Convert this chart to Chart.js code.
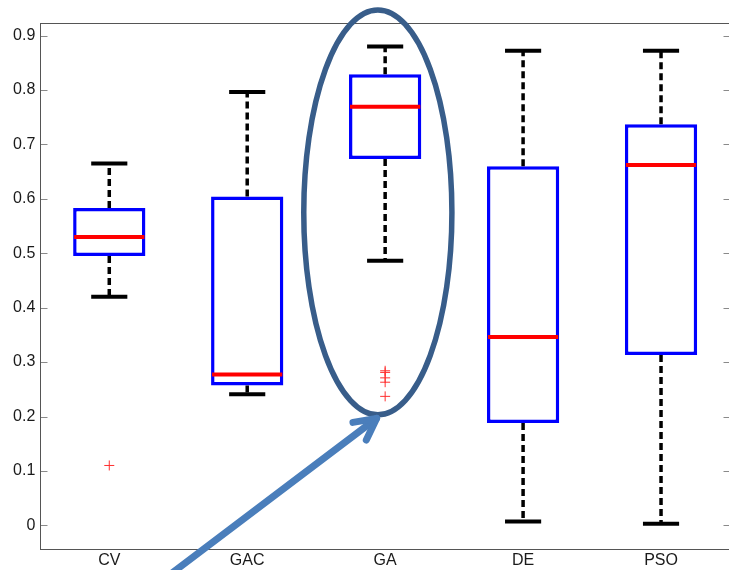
<!DOCTYPE html>
<html>
<head>
<meta charset="utf-8">
<title>Box plot</title>
<script src="https://cdn.jsdelivr.net/npm/chart.js@4/dist/chart.umd.min.js"></script>
<style>
  html, body { margin: 0; padding: 0; background: #fff; }
  #frame { width: 729px; height: 570px; overflow: hidden; }
  #holder { width: 736px; height: 570px; position: relative; }
</style>
</head>
<body>
<div id="frame"><div id="holder"><canvas id="boxChart"></canvas></div></div>
<script>
const categories = ['CV', 'GAC', 'GA', 'DE', 'PSO'];
const lowerWhisker = [0.420, 0.241, 0.486, 0.007, 0.003];
const q1 = [0.495, 0.257, 0.673, 0.188, 0.313];
const median = [0.530, 0.277, 0.769, 0.346, 0.662];
const q3 = [0.583, 0.604, 0.829, 0.660, 0.737];
const upperWhisker = [0.665, 0.796, 0.880, 0.872, 0.872];
const outliers = [[0.110], [], [0.284, 0.281, 0.271, 0.263, 0.237], [], []];
const yTicks = [0, 0.1, 0.2, 0.3, 0.4, 0.5, 0.6, 0.7, 0.8, 0.9];

// ring round GA and the arrow pointing at it, in axis units (category index, value)
const ringCenter = [1.947, 0.575];
const ringRadius = [0.537, 0.372];
const arrowFrom = [0.39, -0.1];
const arrowTo = [1.938, 0.1965];

const labelFont = { family: "'Liberation Sans', Arial, sans-serif", size: 16 };

function line(ctx, x1, y1, x2, y2) {
    ctx.beginPath();
    ctx.moveTo(x1, y1);
    ctx.lineTo(x2, y2);
    ctx.stroke();
}

// axis box with inward tick marks
const axisFrame = {
    id: 'axisFrame',
    beforeDatasetsDraw(chart) {
        const { ctx, chartArea: a, scales: { y } } = chart;
        const l = Math.round(a.left) + 0.5, r = Math.round(a.right) + 0.5;
        const t = Math.round(a.top) + 0.5, b = Math.round(a.bottom) + 0.5;
        ctx.save();
        ctx.lineWidth = 1;
        ctx.strokeStyle = '#8a8a8a';
        yTicks.forEach(v => {
            const py = Math.round(y.getPixelForValue(v)) + 0.5;
            line(ctx, l, py, l + 7, py);
            line(ctx, r - 7, py, r, py);
        });
        ctx.strokeStyle = '#555';
        ctx.strokeRect(l, t, r - l, b - t);
        ctx.restore();
    }
};

// whiskers, caps and medians on top of the boxes
const boxParts = {
    id: 'boxParts',
    afterDatasetsDraw(chart) {
        const { ctx, scales: { x, y } } = chart;
        const meta = chart.getDatasetMeta(0);
        ctx.save();
        categories.forEach((name, i) => {
            const cx = x.getPixelForValue(i);
            const half = meta.data[i].width / 2;
            const yUp = y.getPixelForValue(upperWhisker[i]);
            const yLow = y.getPixelForValue(lowerWhisker[i]);

            ctx.strokeStyle = '#000';
            ctx.lineWidth = 3.5;
            ctx.setLineDash([7, 4]);
            line(ctx, cx, y.getPixelForValue(q3[i]), cx, yUp);
            line(ctx, cx, y.getPixelForValue(q1[i]), cx, yLow);
            ctx.setLineDash([]);

            ctx.lineWidth = 4;
            line(ctx, cx - half / 2, yUp, cx + half / 2, yUp);
            line(ctx, cx - half / 2, yLow, cx + half / 2, yLow);

            const ym = y.getPixelForValue(median[i]);
            ctx.strokeStyle = '#ff0000';
            ctx.lineWidth = 4;
            line(ctx, cx - half + 1, ym, cx + half - 1, ym);
        });
        ctx.restore();
    }
};

const callout = {
    id: 'callout',
    afterDraw(chart) {
        const { ctx, scales: { x, y } } = chart;
        const cx = x.getPixelForValue(ringCenter[0]);
        const cy = y.getPixelForValue(ringCenter[1]);
        const rx = x.getPixelForValue(ringCenter[0] + ringRadius[0]) - cx;
        const ry = cy - y.getPixelForValue(ringCenter[1] + ringRadius[1]);
        ctx.save();
        ctx.strokeStyle = '#385D8A';
        ctx.lineWidth = 5.5;
        ctx.beginPath();
        ctx.ellipse(cx, cy, rx, ry, 0, 0, Math.PI * 2);
        ctx.stroke();

        const x0 = x.getPixelForValue(arrowFrom[0]), y0 = y.getPixelForValue(arrowFrom[1]);
        const x1 = x.getPixelForValue(arrowTo[0]), y1 = y.getPixelForValue(arrowTo[1]);
        const ang = Math.atan2(y0 - y1, x0 - x1);
        const head = 24, spread = 0.48;
        ctx.strokeStyle = '#4A7EBB';
        ctx.lineWidth = 7;
        ctx.lineCap = 'round';
        ctx.lineJoin = 'round';
        line(ctx, x0, y0, x1, y1);
        ctx.beginPath();
        ctx.moveTo(x1 + head * Math.cos(ang + spread), y1 + head * Math.sin(ang + spread));
        ctx.lineTo(x1, y1);
        ctx.lineTo(x1 + head * Math.cos(ang - spread), y1 + head * Math.sin(ang - spread));
        ctx.stroke();
        ctx.restore();
    }
};

new Chart(document.getElementById('boxChart'), {
    type: 'bar',
    data: {
        labels: categories,
        datasets: [{
            data: categories.map((c, i) => [q1[i], q3[i]]),
            backgroundColor: '#ffffff',
            borderColor: '#0000ff',
            borderWidth: 3.5,
            borderSkipped: false,
            barPercentage: 0.524,
            categoryPercentage: 1
        }, {
            type: 'line',
            showLine: false,
            data: outliers.flatMap((vals, i) => vals.map(v => ({ x: categories[i], y: v }))),
            pointStyle: 'cross',
            pointRadius: 5,
            pointBorderColor: '#ff3030',
            pointBorderWidth: 1,
            borderColor: '#ff3030'
        }]
    },
    options: {
        responsive: true,
        maintainAspectRatio: false,
        animation: false,
        layout: { padding: { top: 23, right: 1.5, left: 0, bottom: 0 } },
        plugins: {
            legend: { display: false },
            tooltip: { enabled: false }
        },
        scales: {
            x: {
                offset: true,
                grid: { display: false, drawTicks: false },
                border: { display: false },
                ticks: { font: labelFont, color: '#1a1a1a', padding: 2, maxRotation: 0 },
                afterFit: s => { s.height = 20.7; }
            },
            y: {
                min: -0.044,
                max: 0.923,
                grid: { display: false, drawTicks: false },
                border: { display: false },
                afterBuildTicks: s => { s.ticks = yTicks.map(v => ({ value: v })); },
                ticks: {
                    font: labelFont,
                    color: '#1a1a1a',
                    padding: 5,
                    callback: v => v === 0 ? '0' : v.toFixed(1)
                },
                afterFit: s => { s.width = 40.3; }
            }
        }
    },
    plugins: [axisFrame, boxParts, callout]
});
</script>
</body>
</html>
